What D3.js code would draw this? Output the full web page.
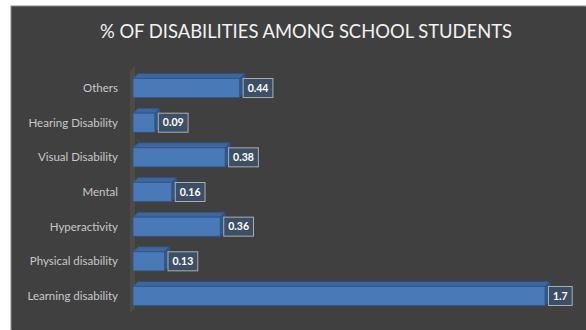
<!DOCTYPE html>
<html><head><meta charset="utf-8">
<script src="https://cdn.jsdelivr.net/npm/d3@7"></script>
<style>html,body{margin:0;padding:0;background:#fff;}svg{display:block;}</style>
</head><body>
<script>
const categories = ["Others","Hearing Disability","Visual Disability","Mental","Hyperactivity","Physical disability","Learning disability"];
const values = [0.44,0.09,0.38,0.16,0.36,0.13,1.7];
const valueLabels = ["0.44","0.09","0.38","0.16","0.36","0.13","1.7"];
const title = "% OF DISABILITIES AMONG SCHOOL STUDENTS";

const W=586,H=330;
const svg=d3.select("body").append("svg").attr("width",W).attr("height",H);
svg.append("rect").attr("x",11).attr("y",6).attr("width",W-11).attr("height",H-6)
  .attr("fill","#404040").attr("stroke","#8a8a8a").attr("stroke-width",1);
svg.append("rect").attr("x",12).attr("y",7).attr("width",W-12).attr("height",H-7).attr("fill","#404040");

svg.append("text").attr("x",306).attr("y",38).attr("text-anchor","middle")
  .attr("font-family","Lato, 'Open Sans', sans-serif").attr("font-size",18.4)
  .attr("fill","#f2f2f2").text(title);

const x=d3.scaleLinear().domain([0,1.7]).range([133,545]);
const y=d3.scaleBand().domain(categories).range([70.7,313.3]).paddingInner(0.45).paddingOuter(0.225);
const dx=5, dy=-5;

// back wall
const wx=x(0)-3, wTop=66, wBot=313;
svg.append("polygon")
  .attr("points",`${wx},${wTop+5} ${wx+dx},${wTop} ${wx+dx},${wBot-5} ${wx},${wBot}`)
  .attr("fill","#4e4b43");

// y labels
svg.append("g").selectAll("text").data(categories).join("text")
  .attr("x",118).attr("y",d=>y(d)+y.bandwidth()/2).attr("dy","0.35em")
  .attr("text-anchor","end").attr("font-family","Lato, 'Open Sans', sans-serif")
  .attr("font-size",11.5).attr("fill","#c8c8c8").text(d=>d);

const g=svg.append("g").selectAll("g").data(categories).join("g");
g.each(function(d,i){
  const s=d3.select(this);
  const x0=x(0), x1=x(values[i]), yt=y(d), yb=y(d)+y.bandwidth();
  s.append("polygon").attr("points",`${x0},${yt} ${x0+dx},${yt+dy} ${x1+dx},${yt+dy} ${x1},${yt}`)
    .attr("fill","#3e659c").attr("stroke","#2d5081").attr("stroke-width",0.8);
  s.append("polygon").attr("points",`${x1},${yt} ${x1+dx},${yt+dy} ${x1+dx},${yb+dy} ${x1},${yb}`)
    .attr("fill","#335887").attr("stroke","#2d5081").attr("stroke-width",0.8);
  s.append("rect").attr("x",x0).attr("y",yt).attr("width",x1-x0).attr("height",yb-yt)
    .attr("fill","#4a79b7").attr("stroke","#2f5689").attr("stroke-width",0.8);
  const t=s.append("text").attr("x",x1+8).attr("y",(yt+yb)/2).attr("dy","0.35em")
    .attr("font-family","Lato, 'Open Sans', sans-serif").attr("font-weight","bold")
    .attr("font-size",10.5).attr("fill","#ffffff").text(valueLabels[i]);
  const bw=t.node().getComputedTextLength();
  s.insert("rect","text").attr("x",x1+3.5).attr("y",(yt+yb)/2-9.5).attr("width",bw+9).attr("height",19)
    .attr("fill","#3d4f65").attr("stroke","#a9aeb4").attr("stroke-width",1);
});
</script>
</body></html>
